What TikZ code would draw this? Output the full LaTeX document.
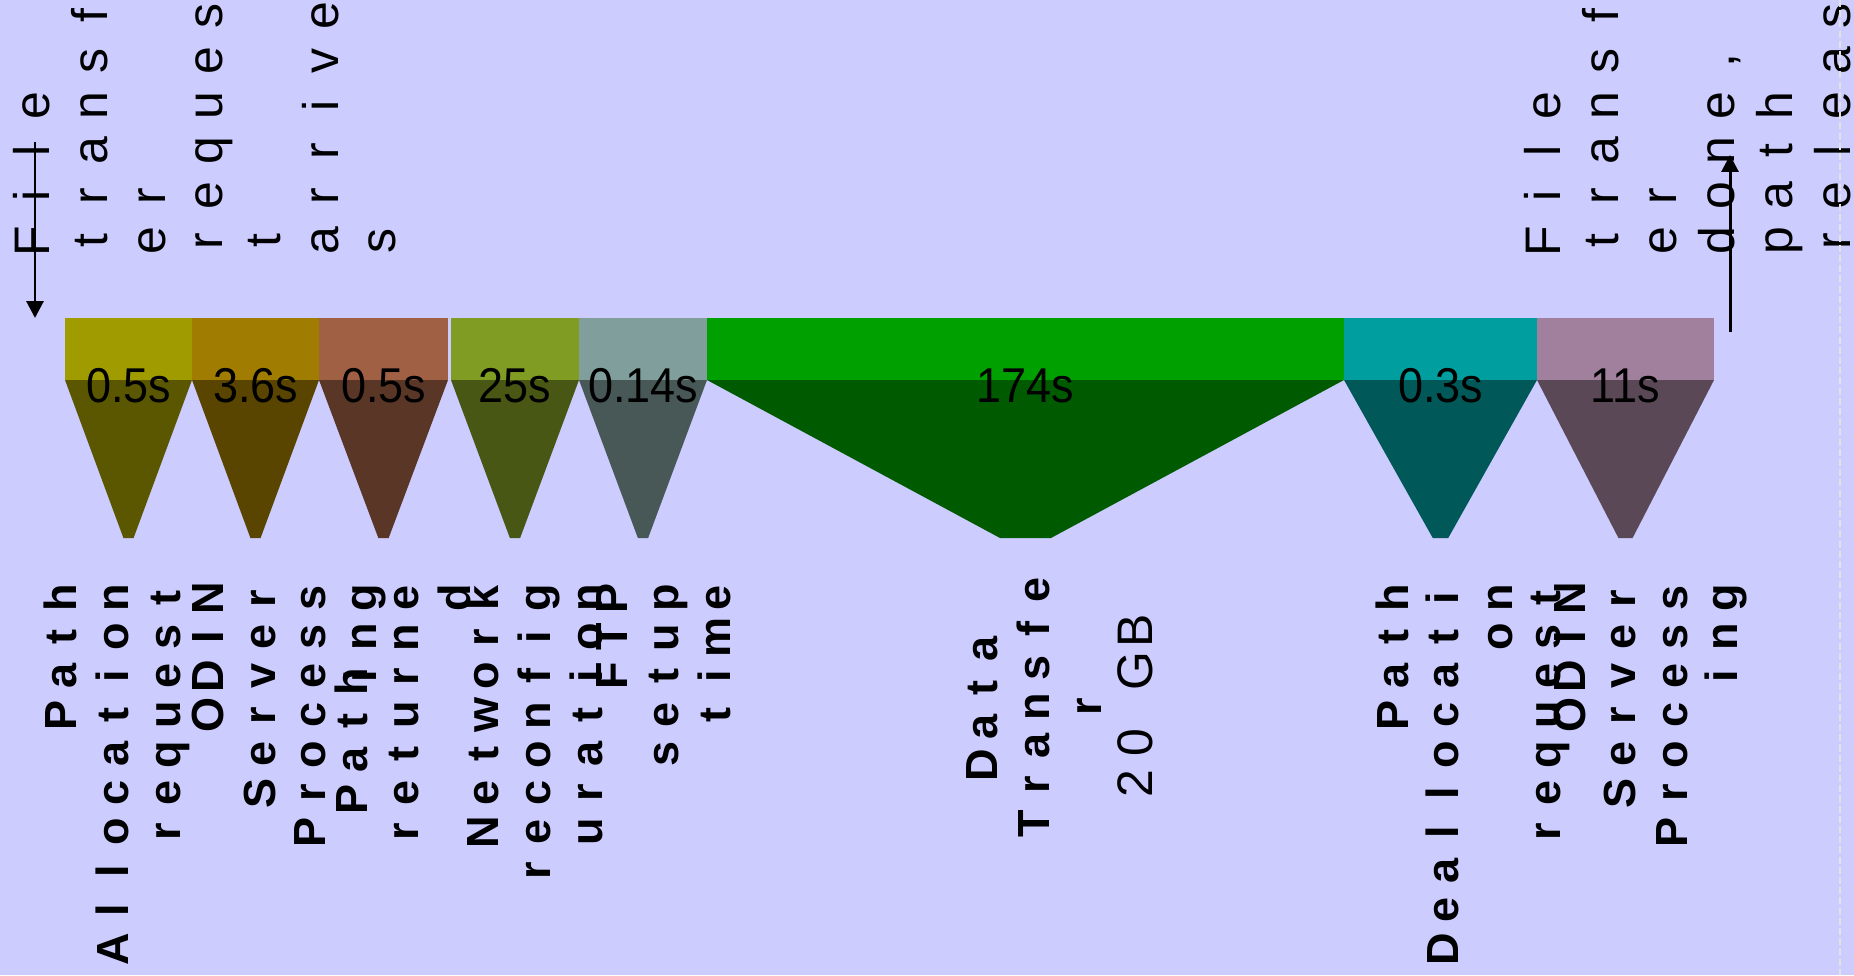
\documentclass[tikz,border=0pt]{standalone}
\usepackage{fontspec}
\usetikzlibrary{arrows.meta}

\newfontfamily\lblfont{Liberation Sans}
\newlength\pxu
\setlength\pxu{0.01cm}
\newlength\cellw
% every letter in a box of fixed width
\def\cells#1{\expandafter\cellsi#1\relax}
\def\cellsi#1{\ifx\relax#1\else\makebox[\cellw]{#1}\expandafter\cellsi\fi}

\definecolor{bgLav}{HTML}{CCCCFF}
\definecolor{edgeGrey}{HTML}{E2E2E6}
\definecolor{segA}{HTML}{A09C00}
\definecolor{segB}{HTML}{A07C00}
\definecolor{segC}{HTML}{A06044}
\definecolor{segD}{HTML}{809C22}
\definecolor{segE}{HTML}{809E9C}
\definecolor{segF}{HTML}{00A000}
\definecolor{segG}{HTML}{009E9E}
\definecolor{segH}{HTML}{A0809C}

\begin{document}
\begin{tikzpicture}[x=0.01cm, y=-0.01cm,
  dur/.style={font=\lblfont\fontsize{13.9}{16}\selectfont, xscale=0.92, inner sep=0},
  toplbl/.style={rotate=90, inner sep=0, anchor=base west,
    font=\lblfont\fontsize{14.2}{17}\selectfont\setlength\cellw{45\pxu}},
  botlbl/.style={rotate=90, inner sep=0, anchor=base east,
    font=\lblfont\bfseries\fontsize{12.8}{15}\selectfont\setlength\cellw{39\pxu}},
  midlbl/.style={botlbl, anchor=base},
  evtarrow/.style={line width=0.85pt, -{Triangle[length=4.8pt, width=4.8pt]}}]
  \useasboundingbox (0,0) rectangle (1854,975);
  \fill[bgLav] (0,0) rectangle (1854,975);

  % timeline segments
  \foreach \xa/\xb/\col/\dur [count=\i] in {65/192/segA/0.5s, 192/319/segB/3.6s,
      319/448/segC/0.5s, 451/579/segD/25s, 579/707/segE/0.14s, 707/1344/segF/174s,
      1344/1537/segG/0.3s, 1537/1714/segH/11s} {
    \pgfmathsetmacro\xm{(\xa+\xb)/2}
    \pgfmathsetmacro\hw{0.04*(\xb-\xa)}
    \fill[\col] (\xa,318) rectangle (\xb,380);
    \fill[\col!56!black] (\xa,380) -- (\xb,380) -- (\xm+\hw,538) -- (\xm-\hw,538) -- cycle;
    \node[dur] (dur\i) at (\xm,386) {\dur};
  }

  % events above the bar
  \foreach \bx/\txt [count=\i] in {50/File, 107/transf, 165/er, 222/reques, 280/t, 338/arrive, 395/s}
    \node[toplbl] (arr\i) at (\bx,264) {\cells\txt};
  \foreach \bx/\txt [count=\i] in {1560/File, 1618/transf, 1676/er, {1734/done,}, 1792/path, 1850/releas}
    \node[toplbl] (rel\i) at (\bx,264) {\cells\txt};

  % step names below the bar
  \foreach \bx/\by/\txt [count=\i] in {76/578/Path, 128/578/Allocation, 180/578/request,
      223/578/ODIN, 275/578/Server, 325/578/Process, 376/578/ing,
      367/662/Path, 418/578/returne, 470/578/d,
      498/578/Network, 550/578/reconfig, 602/578/uration,
      627/578/FTP, 678/578/setup, 730/578/time,
      1408/578/Path, 1458/578/Deallocati, 1512/578/on, 1560/578/request,
      1585/578/ODIN, 1635/578/Server, 1687/578/Process, 1737/578/ing}
    \node[botlbl] (lbl\i) at (\bx,\by) {\cells\txt};
  \foreach \bx/\txt [count=\i] in {997/Data, 1049/Transfe, 1101/r}
    \node[midlbl] (xfer\i) at (\bx,707) {\cells\txt};
  \node[midlbl, font=\lblfont\fontsize{14.2}{17}\selectfont\setlength\cellw{41\pxu}]
    (xfer4) at (1152,707) {\cells{20}\hspace{30\pxu}\cells{GB}};

  % start and end arrows
  \coordinate (reqTop) at (35,142);
  \coordinate (reqBar) at (35,318);
  \draw[evtarrow] (reqTop) -- (reqBar);
  \coordinate (relBar) at (1730,332);
  \coordinate (relTop) at (1730,155);
  \draw[evtarrow] (relBar) -- (relTop);

  \draw[edgeGrey, line width=0.4pt, dash pattern=on 2pt off 0.9pt] (1840,0) -- (1840,975);
\end{tikzpicture}
\end{document}
